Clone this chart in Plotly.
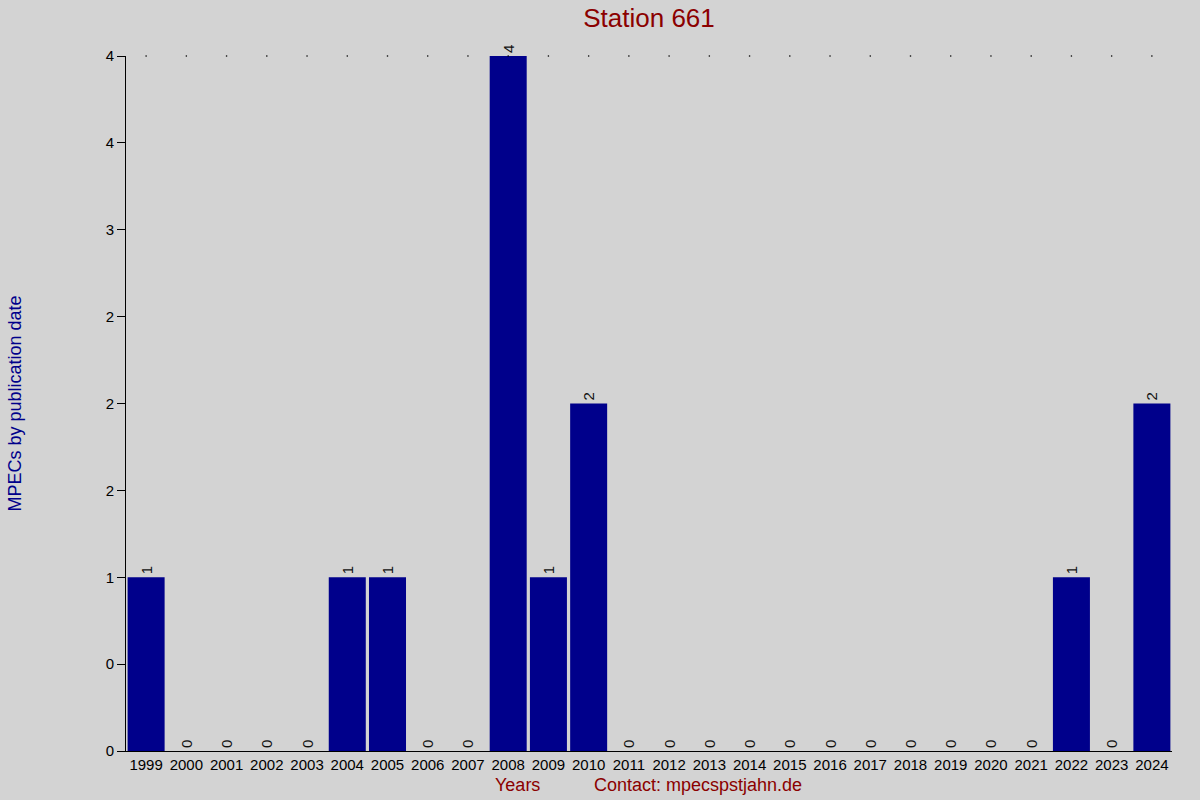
import plotly.graph_objects as go

years = [str(y) for y in range(1999, 2025)]
counts = [1, 0, 0, 0, 0, 1, 1, 0, 0, 4, 1, 2, 0, 0, 0, 0, 0, 0, 0, 0, 0, 0, 0, 1, 0, 2]
ytick_vals = [0, 0.5, 1, 1.5, 2, 2.5, 3, 3.5, 4]
ytick_text = ["0", "0", "1", "2", "2", "2", "3", "4", "4"]

title_text = "Station 661"
ytitle = "MPECs by publication date"
xtitle = "Years"
contact = "Contact: mpecspstjahn.de"

FONT = "Liberation Sans, Arial, sans-serif"
BG = "#D3D3D3"
BAR = "#00008B"
RED = "#8B0000"

fig = go.Figure()
fig.add_trace(go.Bar(
    x=years, y=counts,
    marker=dict(color=BAR, line=dict(width=0)),
    text=[str(c) for c in counts],
    textposition="outside",
    textangle=-90,
    constraintext="none",
    textfont=dict(family=FONT, size=15, color="#111111"),
    cliponaxis=False,
    hoverinfo="x+y",
))
# dotted reference at the maximum
ymax = max(counts)
fig.add_trace(go.Scatter(
    x=years, y=[ymax] * len(years), mode="markers",
    marker=dict(size=1.6, color="black"),
    hoverinfo="skip", cliponaxis=False,
))

fig.update_layout(
    width=1200, height=800,
    paper_bgcolor=BG, plot_bgcolor=BG,
    showlegend=False,
    bargap=0.08,
    margin=dict(l=126, r=28, t=56, b=49),
    title=dict(text=title_text, x=(126 + 1172) / 2 / 1200, xanchor="center",
               y=0.978, yanchor="middle",
               font=dict(family=FONT, size=26, color=RED)),
    font=dict(family=FONT, size=15, color="black"),
)
fig.update_xaxes(
    type="category",
    range=[-0.5, len(years) - 0.5],
    showline=True, linecolor="black", linewidth=1,
    showgrid=False, ticks="", ticklen=0,
    tickfont=dict(family=FONT, size=15, color="black"),
)
fig.update_yaxes(
    range=[0, ymax],
    tickvals=ytick_vals, ticktext=ytick_text,
    showline=True, linecolor="black", linewidth=1,
    ticks="outside", ticklen=8, tickcolor="black",
    showgrid=False, zeroline=False,
    tickfont=dict(family=FONT, size=15, color="black"),
)
fig.add_annotation(text=ytitle, xref="paper", yref="paper",
                   x=-124 / 1046, xanchor="left", y=0.5, yanchor="middle",
                   textangle=-90, showarrow=False,
                   font=dict(family=FONT, size=18, color=BAR))
fig.add_annotation(text=xtitle, xref="paper", yref="paper",
                   x=(517 - 126) / 1046, xanchor="center", y=-34 / 695, yanchor="middle",
                   showarrow=False, font=dict(family=FONT, size=18, color=RED))
fig.add_annotation(text=contact, xref="paper", yref="paper",
                   x=(698 - 126) / 1046, xanchor="center", y=-34 / 695, yanchor="middle",
                   showarrow=False, font=dict(family=FONT, size=18, color=RED))

fig.write_html("out.html", config={"displayModeBar": False},
               post_script="document.body.style.margin='0';document.body.style.overflow='hidden';")
